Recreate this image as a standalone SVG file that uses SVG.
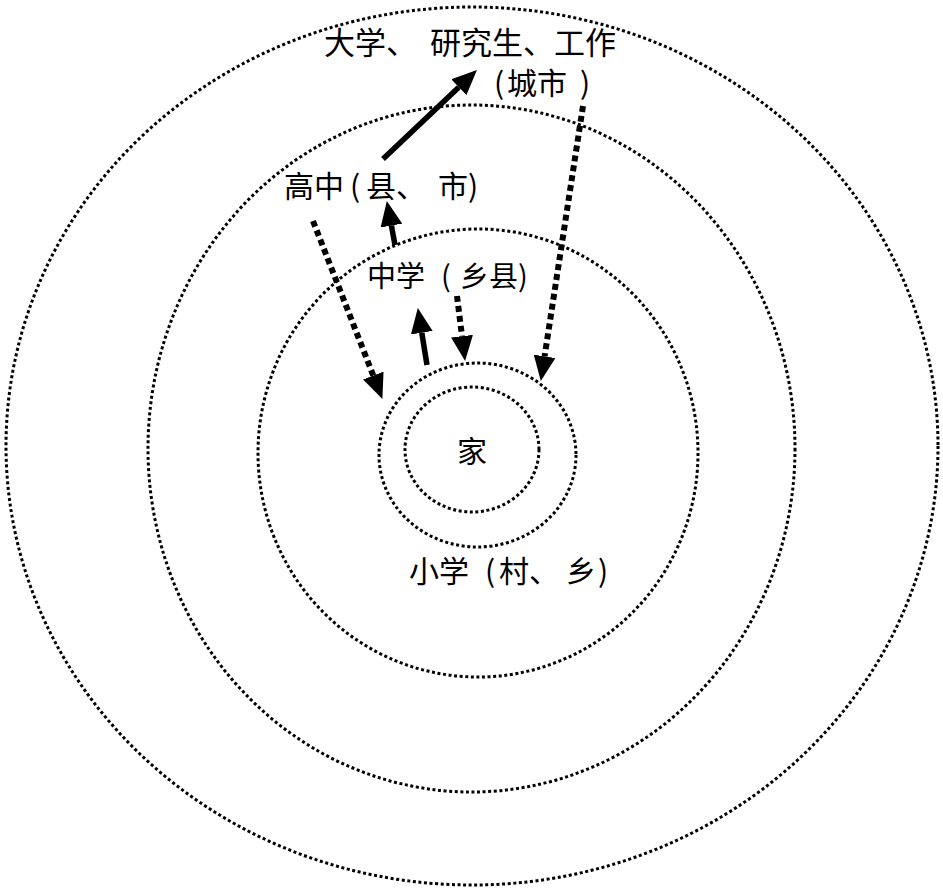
<svg xmlns="http://www.w3.org/2000/svg" width="943" height="889" viewBox="0 0 943 889">
<style>
.ring{fill:none;stroke:#000;stroke-width:3;stroke-dasharray:3 2.6}
.lbl{font-family:"Noto Sans CJK SC","Noto Sans CJK JP",sans-serif;fill:#000}
.solid{stroke:#000;stroke-width:5.5;fill:none}
.dash{stroke:#000;stroke-width:6;stroke-dasharray:6 4;fill:none}
</style>
<defs>
<marker id="ah" markerUnits="userSpaceOnUse" markerWidth="26" markerHeight="22" refX="0" refY="11" orient="auto">
<path d="M0,0 L25,11 L0,22 z" fill="#000"/>
</marker>
</defs>
<rect width="943" height="889" fill="#fff"/>
<g id="city">
<ellipse class="ring" cx="472" cy="446" rx="466" ry="439"/>
<text class="lbl" font-size="31" y="54"><tspan x="324">大学、</tspan><tspan x="430">研究生、工作</tspan></text>
<text class="lbl" font-size="30" y="94"><tspan x="494">(</tspan><tspan x="507">城市</tspan><tspan x="580">)</tspan></text>
</g>
<g id="highschool">
<ellipse class="ring" cx="471.5" cy="448.5" rx="323.5" ry="343.5"/>
<text class="lbl" font-size="30" y="197"><tspan x="284">高中</tspan><tspan x="350">(</tspan><tspan x="366">县、</tspan><tspan x="438">市)</tspan></text>
</g>
<g id="middleschool">
<ellipse class="ring" cx="478" cy="453" rx="220" ry="224"/>
<text class="lbl" font-size="29" y="287"><tspan x="367">中学</tspan><tspan x="441">(</tspan><tspan x="460">乡县)</tspan></text>
</g>
<g id="primary">
<ellipse class="ring" cx="477.5" cy="455" rx="98.5" ry="92"/>
<text class="lbl" font-size="30" y="582"><tspan x="409">小学</tspan><tspan x="485">(</tspan><tspan x="499">村、</tspan><tspan x="566">乡</tspan><tspan x="598">)</tspan></text>
</g>
<g id="home">
<ellipse class="ring" cx="472" cy="449.5" rx="67" ry="62.5"/>
<text class="lbl" font-size="30" x="457" y="462">家</text>
</g>
<g id="connectors">
<line class="solid" x1="383" y1="159" x2="458.8" y2="87.2" marker-end="url(#ah)"/>
<line class="solid" x1="395" y1="245" x2="391.4" y2="225.6" marker-end="url(#ah)"/>
<line class="solid" x1="427" y1="365" x2="421.8" y2="332.7" marker-end="url(#ah)"/>
<line class="dash" x1="313" y1="221" x2="373.3" y2="375.6" marker-end="url(#ah)"/>
<line class="dash" x1="457" y1="296" x2="462" y2="336.2" marker-end="url(#ah)"/>
<line class="dash" x1="583" y1="106" x2="544.6" y2="356.3" marker-end="url(#ah)"/>
</g>
</svg>
